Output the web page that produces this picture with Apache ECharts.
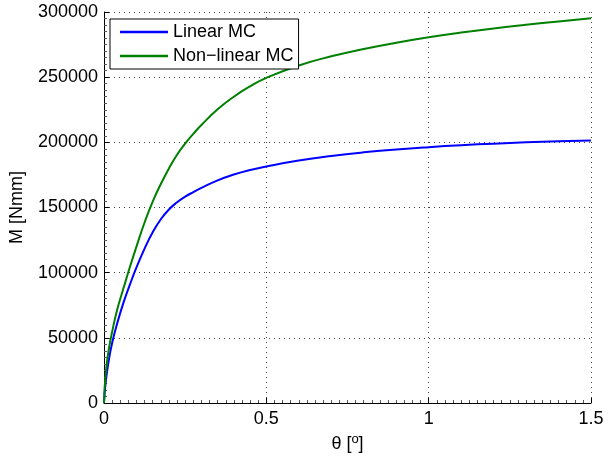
<!DOCTYPE html>
<html>
<head>
<meta charset="utf-8">
<script src="https://cdn.jsdelivr.net/npm/echarts@6/dist/echarts.min.js"></script>
<style>html,body{margin:0;padding:0;background:#fff;}#c{width:613px;height:463px;}</style>
</head>
<body>
<div id="c"></div>
<script>
var theta = [0, 0.005, 0.015, 0.025, 0.04, 0.06, 0.08, 0.1, 0.125, 0.15, 0.175, 0.2, 0.225, 0.25, 0.275, 0.3, 0.35, 0.4, 0.45, 0.5, 0.6, 0.7, 0.8, 0.9, 1.0, 1.1, 1.2, 1.3, 1.4, 1.5];
var linearMC = [0, 15500, 33000, 46000, 60500, 77000, 91000, 104000, 118500, 131000, 141000, 148500, 154000, 158300, 161800, 165000, 170800, 175300, 178800, 181500, 186000, 189500, 192300, 194500, 196300, 197800, 199000, 200000, 200800, 201400];
var nonlinearMC = [0, 22000, 41500, 54500, 71000, 88000, 104500, 120000, 138500, 154500, 168000, 180000, 190500, 199000, 206500, 213300, 225300, 235000, 243000, 249500, 259000, 266000, 271600, 276400, 280600, 284200, 287400, 290200, 292800, 295200];
var seriesNames = ['Linear MC', 'Non\u2212linear MC'];
var xTicks = [0, 0.5, 1, 1.5];
var yTicks = [0, 50000, 100000, 150000, 200000, 250000, 300000];

function pairs(xs, ys) { return xs.map(function (x, i) { return [x, ys[i]]; }); }

var font = 'Liberation Sans, Arial, Helvetica, sans-serif';
var fs = 18;
var chart = echarts.init(document.getElementById('c'), null, { renderer: 'canvas' });
chart.setOption({
  animation: false,
  backgroundColor: '#fff',
  grid: { left: 103, right: 22, top: 12, bottom: 60, containLabel: false },
  legend: {
    orient: 'vertical', left: 110, top: 19,
    backgroundColor: '#fff', borderColor: '#000', borderWidth: 1,
    padding: [4, 5, 4, 10], itemGap: 6,
    itemWidth: 48, itemHeight: 2.5, icon: 'rect',
    textStyle: { fontFamily: font, fontSize: fs, color: '#000' },
    data: seriesNames
  },
  xAxis: {
    type: 'value', min: xTicks[0], max: xTicks[xTicks.length - 1], interval: 0.5,
    name: '{a|θ [}{s|o}{a|]}', nameLocation: 'middle', nameGap: 25,
    nameTextStyle: { rich: {
      a: { fontFamily: font, fontSize: fs, color: '#000' },
      s: { fontFamily: font, fontSize: 13, color: '#000', verticalAlign: 'top', padding: [0, 0, 9, 0] }
    } },
    axisLine: { show: true, onZero: false, lineStyle: { color: '#000', width: 1 } },
    axisTick: { show: true, inside: true, length: 5, lineStyle: { color: '#000' } },
    minorTick: { show: true, splitNumber: 20, length: 3, lineStyle: { color: '#555' } },
    axisLabel: { margin: 7, fontFamily: font, fontSize: fs, color: '#000',
      formatter: function (v) { return String(v); } },
    splitLine: { show: true, lineStyle: { color: '#444', type: [1, 4], width: 1 } }
  },
  yAxis: {
    type: 'value', min: yTicks[0], max: yTicks[yTicks.length - 1], interval: 50000,
    name: 'M [Nmm]', nameLocation: 'middle', nameGap: 78,
    nameTextStyle: { fontFamily: font, fontSize: fs, color: '#000' },
    axisLine: { show: true, onZero: false, lineStyle: { color: '#000', width: 1 } },
    axisTick: { show: true, inside: true, length: 5, lineStyle: { color: '#000' } },
    minorTick: { show: true, splitNumber: 10, length: 3, lineStyle: { color: '#555' } },
    axisLabel: { margin: 6, fontFamily: font, fontSize: fs, color: '#000',
      formatter: function (v) { return String(v); } },
    splitLine: { show: true, lineStyle: { color: '#444', type: [1, 4], width: 1 } }
  },
  series: [
    { name: seriesNames[0], type: 'line', data: pairs(theta, linearMC), smooth: 0.5,
      symbol: 'none', color: '#0000ff', lineStyle: { color: '#0000ff', width: 2 }, z: 3 },
    { name: seriesNames[1], type: 'line', data: pairs(theta, nonlinearMC), smooth: 0.5,
      symbol: 'none', color: '#008000', lineStyle: { color: '#008000', width: 2 }, z: 3 }
  ]
});
</script>
</body>
</html>
